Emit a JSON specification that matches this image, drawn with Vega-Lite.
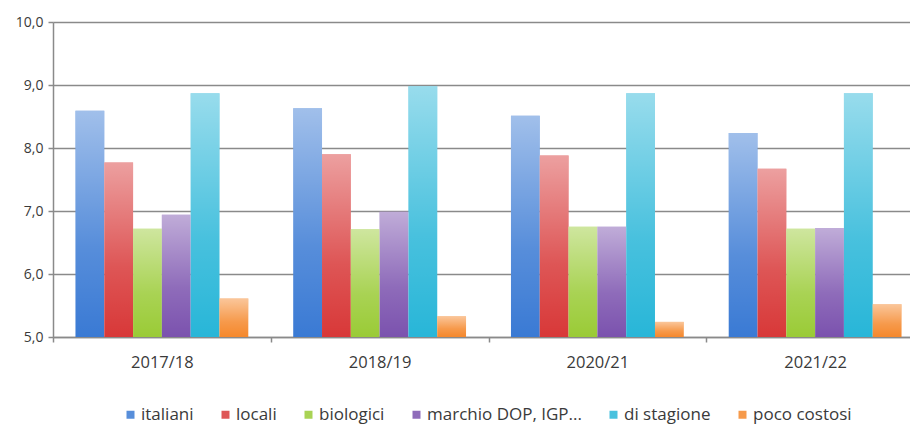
{
  "$schema": "https://vega.github.io/schema/vega-lite/v6.json",
  "width": 857,
  "height": 315,
  "autosize": {"type": "none"},
  "padding": {"left": 53, "top": 22, "right": 0, "bottom": 89},
  "background": "white",
  "data": {
    "values": [
      {"anno": "2017/18", "voce": "italiani", "valore": 8.59},
      {"anno": "2017/18", "voce": "locali", "valore": 7.77},
      {"anno": "2017/18", "voce": "biologici", "valore": 6.72},
      {"anno": "2017/18", "voce": "marchio DOP, IGP...", "valore": 6.94},
      {"anno": "2017/18", "voce": "di stagione", "valore": 8.87},
      {"anno": "2017/18", "voce": "poco costosi", "valore": 5.61},
      {"anno": "2018/19", "voce": "italiani", "valore": 8.63},
      {"anno": "2018/19", "voce": "locali", "valore": 7.9},
      {"anno": "2018/19", "voce": "biologici", "valore": 6.71},
      {"anno": "2018/19", "voce": "marchio DOP, IGP...", "valore": 6.99},
      {"anno": "2018/19", "voce": "di stagione", "valore": 8.98},
      {"anno": "2018/19", "voce": "poco costosi", "valore": 5.33},
      {"anno": "2020/21", "voce": "italiani", "valore": 8.51},
      {"anno": "2020/21", "voce": "locali", "valore": 7.88},
      {"anno": "2020/21", "voce": "biologici", "valore": 6.75},
      {"anno": "2020/21", "voce": "marchio DOP, IGP...", "valore": 6.75},
      {"anno": "2020/21", "voce": "di stagione", "valore": 8.87},
      {"anno": "2020/21", "voce": "poco costosi", "valore": 5.24},
      {"anno": "2021/22", "voce": "italiani", "valore": 8.24},
      {"anno": "2021/22", "voce": "locali", "valore": 7.67},
      {"anno": "2021/22", "voce": "biologici", "valore": 6.72},
      {"anno": "2021/22", "voce": "marchio DOP, IGP...", "valore": 6.73},
      {"anno": "2021/22", "voce": "di stagione", "valore": 8.87},
      {"anno": "2021/22", "voce": "poco costosi", "valore": 5.52}
    ]
  },
  "encoding": {
    "x": {
      "field": "anno",
      "type": "nominal",
      "sort": ["2017/18", "2018/19", "2020/21", "2021/22"],
      "scale": {"range": [0, 871], "paddingInner": 0, "paddingOuter": 0},
      "axis": {
        "title": null,
        "labelAngle": 0,
        "tickBand": "extent",
        "tickSize": 5,
        "tickColor": "#8a8a8a",
        "tickWidth": 1.5,
        "domainColor": "#8a8a8a",
        "domainWidth": 1.5,
        "labelPadding": 12,
        "labelFontSize": 16.5,
        "labelColor": "#3a3a3a",
        "labelFont": "Open Sans"
      }
    },
    "xOffset": {
      "field": "voce",
      "type": "nominal",
      "sort": ["italiani", "locali", "biologici", "marchio DOP, IGP...", "di stagione", "poco costosi"],
      "scale": {"paddingInner": 0, "paddingOuter": 0.78}
    },
    "y": {
      "field": "valore",
      "type": "quantitative",
      "scale": {"domain": [5, 10], "zero": false, "nice": false},
      "axis": {
        "title": null,
        "values": [5, 6, 7, 8, 9, 10],
        "labelExpr": "replace(format(datum.value, '.1f'), '.', ',')",
        "grid": true,
        "gridColor": "#8a8a8a",
        "gridWidth": 1.7,
        "tickSize": 5,
        "tickColor": "#8a8a8a",
        "tickWidth": 1.5,
        "domainColor": "#8a8a8a",
        "domainWidth": 1.5,
        "labelPadding": 5,
        "labelFontSize": 14,
        "labelColor": "#3a3a3a",
        "labelFont": "Open Sans"
      }
    },
    "y2": {"datum": 5}
  },
  "layer": [
    {
      "mark": {"type": "bar"},
      "encoding": {
        "color": {
          "field": "voce",
          "type": "nominal",
          "sort": ["italiani", "locali", "biologici", "marchio DOP, IGP...", "di stagione", "poco costosi"],
          "scale": {
            "domain": ["italiani", "locali", "biologici", "marchio DOP, IGP...", "di stagione", "poco costosi"],
            "range": ["#3a7ad4", "#d83838", "#9acb36", "#7b52ae", "#28b6d8", "#f5882c"]
          },
          "legend": {
            "title": null,
            "orient": "none",
            "direction": "horizontal",
            "legendX": 69,
            "legendY": 384,
            "symbolType": "square",
            "symbolSize": 64,
            "symbolStrokeWidth": 0,
            "symbolOpacity": 0.85,
            "labelFontSize": 17,
            "labelFont": "Open Sans",
            "labelColor": "#3a3a3a",
            "labelOffset": 2,
            "columnPadding": 23
          }
        }
      }
    },
    {
      "mark": {
        "type": "bar",
        "color": {
          "gradient": "linear",
          "x1": 0, "y1": 0, "x2": 0, "y2": 1,
          "stops": [
            {"offset": 0, "color": "rgba(255,255,255,0.52)"},
            {"offset": 0.6, "color": "rgba(255,255,255,0.15)"},
            {"offset": 1, "color": "rgba(255,255,255,0)"}
          ]
        }
      }
    }
  ],
  "config": {"view": {"stroke": null}}
}
